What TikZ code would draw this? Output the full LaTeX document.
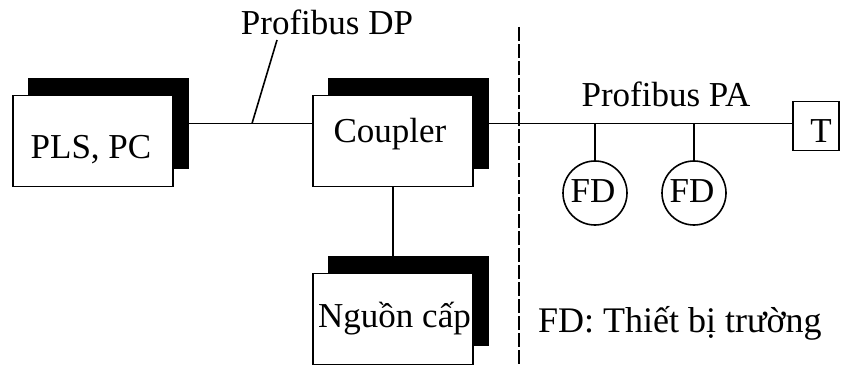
\documentclass[tikz,border=0pt]{standalone}
\usepackage{fontspec}
\setmainfont{Liberation Serif}
\begin{document}
\begin{tikzpicture}[x=1pt,y=-1pt,
  lw/.style={line width=1.6pt},
  shadowbox/.style={draw,fill=black,lw,minimum width=159pt,minimum height=89pt,inner sep=0pt,outer sep=0pt},
  frontbox/.style={draw,fill=white,lw,minimum width=160pt,minimum height=91pt,inner sep=0pt,outer sep=0pt},
  fdcircle/.style={draw,lw,circle,minimum size=64pt,inner sep=0pt,outer sep=0pt},
  tbox/.style={draw,lw,minimum width=46pt,minimum height=49pt,inner sep=0pt,outer sep=0pt},
  txt/.style={inner sep=0pt,outer sep=0pt,font=\fontsize{35}{40}\selectfont},
  bigtxt/.style={inner sep=0pt,outer sep=0pt,font=\fontsize{36}{40}\selectfont},
  wire/.style={lw},
  divider/.style={line width=1.6pt,dash pattern=on 14pt off 3pt}
]
\useasboundingbox (0,0) rectangle (842,366);

% PLS, PC
\node[shadowbox] (plsS) at (108.5,123.5) {};
\node[frontbox] (pls) at (93,141) {};
\node[txt,anchor=base] (plsT) at (91,159) {PLS, PC};

% Coupler
\node[shadowbox] (cplS) at (408.5,123.5) {};
\node[frontbox] (cpl) at (393,141) {};
\node[txt,anchor=base] (cplT) at (390,143) {Coupler};

% Nguon cap
\node[shadowbox] (ngS) at (408.5,301) {};
\node[frontbox] (ng) at (393,319) {};
\node[txt,anchor=base] (ngT) at (394.5,327) {Nguồn cấp};

% T terminator
\node[tbox] (T) at (816,126) {};
\node[txt,anchor=base] (TT) at (821,143) {T};

% FD circles
\node[fdcircle] (fd1) at (595,193) {};
\node[txt,anchor=base] (fd1T) at (593,202) {FD};
\node[fdcircle] (fd2) at (694,193) {};
\node[txt,anchor=base] (fd2T) at (692,202) {FD};

% labels
\node[txt,anchor=base] (dp) at (327,35) {Profibus DP};
\node[txt,anchor=base] (pa) at (666,107) {Profibus PA};
\node[bigtxt,anchor=base west] (legend) at (538,332) {FD: Thiết bị trường};

% connectors
\draw[wire] (plsS.east) -- (plsS.east -| cpl.west);
\draw[wire] (cplS.east) -- (cplS.east -| T.west);
\draw[wire] (cpl.south) -- (cpl.south |- ngS.north);
\draw[wire] (fd1.north |- cplS.east) -- (fd1.north);
\draw[wire] (fd2.north |- cplS.east) -- (fd2.north);
\coordinate (dpTap) at (252,123.5);
\coordinate (dpEnd) at (277,40);
\draw[wire] (dpTap) -- (dpEnd);
\coordinate (divTop) at (519,27);
\coordinate (divBot) at (519,366);
\draw[divider] (divTop) -- (divBot);
\end{tikzpicture}
\end{document}
